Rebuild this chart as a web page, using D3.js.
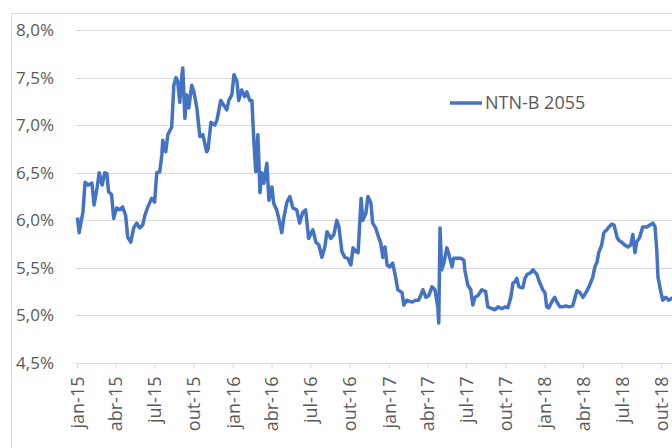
<!DOCTYPE html>
<html>
<head>
<meta charset="utf-8">
<script src="https://cdn.jsdelivr.net/npm/d3@7"></script>
<style>
  body { margin: 0; background: #fff; }
  text { font-family: "Open Sans", sans-serif; fill: #595959; }
</style>
</head>
<body>
<div id="chart"></div>
<script>
// series: NTN-B 2055 yield (%)
const dates = [
  "2015-01-02","2015-01-06","2015-01-15","2015-01-20","2015-01-27","2015-02-05","2015-02-10","2015-02-17","2015-02-22","2015-03-01",
  "2015-03-07","2015-03-12","2015-03-16","2015-03-23","2015-03-28","2015-04-04","2015-04-11","2015-04-18","2015-04-25","2015-04-30",
  "2015-05-07","2015-05-14","2015-05-21","2015-05-28","2015-06-04","2015-06-09","2015-06-16","2015-06-25","2015-07-02","2015-07-07",
  "2015-07-14","2015-07-19","2015-07-21","2015-07-28","2015-08-02","2015-08-11","2015-08-16","2015-08-21","2015-08-25","2015-08-30",
  "2015-09-04","2015-09-06","2015-09-11","2015-09-15","2015-09-20","2015-09-27","2015-10-02","2015-10-09","2015-10-16","2015-10-23",
  "2015-11-01","2015-11-04","2015-11-11","2015-11-20","2015-11-25","2015-12-04","2015-12-11","2015-12-18","2015-12-23","2015-12-30",
  "2016-01-04","2016-01-11","2016-01-15","2016-01-22","2016-01-29","2016-02-03","2016-02-10","2016-02-15","2016-02-19","2016-02-24",
  "2016-02-29","2016-03-05","2016-03-09","2016-03-14","2016-03-21","2016-03-26","2016-04-02","2016-04-06","2016-04-13","2016-04-18",
  "2016-04-25","2016-04-30","2016-05-07","2016-05-14","2016-05-21","2016-05-30","2016-06-06","2016-06-13","2016-06-20","2016-06-27",
  "2016-07-07","2016-07-14","2016-07-21","2016-07-28","2016-08-04","2016-08-09","2016-08-18","2016-08-25","2016-09-01","2016-09-06",
  "2016-09-13","2016-09-20","2016-09-27","2016-10-04","2016-10-09","2016-10-16","2016-10-21","2016-10-28","2016-11-01","2016-11-08",
  "2016-11-13","2016-11-20","2016-11-24","2016-12-01","2016-12-06","2016-12-13","2016-12-18","2016-12-23","2016-12-28",
  "2017-01-03","2017-01-10","2017-01-17","2017-01-22","2017-02-01","2017-02-05","2017-02-12","2017-02-24","2017-03-05","2017-03-12",
  "2017-03-22","2017-03-29","2017-04-05","2017-04-12","2017-04-19","2017-04-26","2017-04-28","2017-05-01","2017-05-05","2017-05-10",
  "2017-05-17","2017-05-22","2017-05-29","2017-06-02","2017-06-09","2017-06-19","2017-06-26","2017-06-28","2017-07-05","2017-07-12",
  "2017-07-17","2017-07-22","2017-07-29","2017-08-07","2017-08-16","2017-08-21","2017-08-31","2017-09-07","2017-09-14","2017-09-23",
  "2017-09-30","2017-10-07","2017-10-14","2017-10-19","2017-10-23","2017-10-28","2017-11-02","2017-11-11","2017-11-16","2017-11-21",
  "2017-11-30","2017-12-05","2017-12-14","2017-12-21","2017-12-28",
  "2018-01-02","2018-01-06","2018-01-11","2018-01-20","2018-01-25","2018-01-30","2018-02-06","2018-02-13","2018-02-20","2018-02-27",
  "2018-03-08","2018-03-13","2018-03-18","2018-03-25","2018-04-01","2018-04-08","2018-04-15","2018-04-24","2018-04-29","2018-05-04",
  "2018-05-08","2018-05-15","2018-05-20","2018-05-27","2018-06-01","2018-06-08","2018-06-13","2018-06-20","2018-06-24","2018-07-01",
  "2018-07-08","2018-07-15","2018-07-22","2018-07-27","2018-08-01","2018-08-05","2018-08-12","2018-08-19","2018-08-29","2018-09-05",
  "2018-09-12","2018-09-17","2018-09-21","2018-09-24","2018-10-01","2018-10-05","2018-10-12","2018-10-19","2018-10-26","2018-11-04"
];
const values = [
  6.03,5.87,6.09,6.40,6.37,6.39,6.16,6.34,6.50,6.37,
  6.50,6.49,6.30,6.27,6.02,6.13,6.11,6.14,6.05,5.82,
  5.77,5.92,5.97,5.92,5.95,6.05,6.14,6.23,6.19,6.50,
  6.51,6.69,6.84,6.72,6.90,6.98,7.42,7.50,7.46,7.24,
  7.53,7.60,7.07,7.32,7.18,7.42,7.35,7.18,6.88,6.90,
  6.72,6.74,7.03,7.00,7.05,7.26,7.21,7.16,7.26,7.32,
  7.53,7.46,7.26,7.37,7.30,7.35,7.26,7.26,6.88,6.51,
  6.90,6.29,6.50,6.39,6.60,6.21,6.35,6.18,6.11,6.02,
  5.87,6.03,6.19,6.25,6.13,6.11,5.97,6.08,6.11,5.81,
  5.90,5.77,5.74,5.61,5.72,5.88,5.81,5.85,6.00,5.93,
  5.67,5.61,5.60,5.53,5.71,5.67,5.66,6.23,6.00,6.07,
  6.25,6.18,5.97,5.92,5.85,5.76,5.61,5.72,5.53,
  5.51,5.55,5.40,5.27,5.24,5.11,5.16,5.14,5.16,5.16,
  5.27,5.19,5.21,5.30,5.27,5.08,4.92,5.92,5.48,5.55,
  5.71,5.64,5.51,5.60,5.60,5.60,5.58,5.48,5.32,5.27,
  5.11,5.19,5.21,5.27,5.25,5.09,5.07,5.06,5.09,5.07,
  5.09,5.08,5.19,5.34,5.35,5.39,5.30,5.29,5.39,5.43,
  5.45,5.48,5.43,5.34,5.27,
  5.24,5.09,5.08,5.16,5.19,5.14,5.09,5.09,5.10,5.09,
  5.10,5.18,5.26,5.24,5.19,5.24,5.30,5.40,5.51,5.56,
  5.66,5.74,5.87,5.90,5.93,5.96,5.95,5.82,5.79,5.77,
  5.74,5.72,5.74,5.85,5.66,5.77,5.82,5.93,5.93,5.95,
  5.97,5.93,5.69,5.40,5.24,5.16,5.19,5.16,5.18,5.18
];
const seriesName = "NTN-B 2055";
const yTicks = [4.5, 5.0, 5.5, 6.0, 6.5, 7.0, 7.5, 8.0];
const xTickLabels = ["jan-15","abr-15","jul-15","out-15","jan-16","abr-16","jul-16","out-16",
  "jan-17","abr-17","jul-17","out-17","jan-18","abr-18","jul-18","out-18"];

const width = 672;
const height = 448;
const parse = d3.timeParse("%Y-%m-%d");
const data = dates.map((d, i) => ({ date: parse(d), value: values[i] }));

// x ticks on the first day of each quarter
const monthIdx = { jan: 0, abr: 3, jul: 6, out: 9 };
const xTickDates = xTickLabels.map(l => {
  const [m, y] = l.split("-");
  return new Date(2000 + +y, monthIdx[m], 1);
});

const x = d3.scaleTime()
  .domain([xTickDates[0], xTickDates[xTickDates.length - 1]])
  .range([77, 661]);
const y = d3.scaleLinear().domain([4.5, 8.0]).range([363, 30]);

const svg = d3.select("#chart").append("svg")
  .attr("width", width)
  .attr("height", height);

// chart area border (runs off the right and bottom edges)
svg.append("rect")
  .attr("x", 11.5).attr("y", 13.5)
  .attr("width", 700).attr("height", 460)
  .attr("fill", "#fff")
  .attr("stroke", "#d9d9d9");

// gridlines
svg.append("g")
  .selectAll("line")
  .data(yTicks.slice(1))
  .join("line")
  .attr("x1", 76).attr("x2", width)
  .attr("y1", d => Math.round(y(d)) + 0.5)
  .attr("y2", d => Math.round(y(d)) + 0.5)
  .attr("stroke", "#d9d9d9");

// y labels
const fmt = d => d.toFixed(1).replace(".", ",") + "%";
svg.append("g")
  .selectAll("text")
  .data(yTicks)
  .join("text")
  .attr("x", 54)
  .attr("y", d => y(d))
  .attr("dy", "0.35em")
  .attr("text-anchor", "end")
  .style("font-size", "17px")
  .text(fmt);

// x axis
const xAxis = d3.axisBottom(x)
  .tickValues(xTickDates)
  .tickSize(5)
  .tickFormat((d, i) => xTickLabels[i]);

const gx = svg.append("g")
  .attr("transform", `translate(0,${Math.round(y(4.5)) + 0.5})`)
  .call(xAxis);
gx.select(".domain").attr("d", `M76,0H${width}`).attr("stroke", "#d9d9d9");
gx.selectAll(".tick line").attr("stroke", "#d9d9d9");
gx.selectAll(".tick text")
  .attr("fill", "#595959")
  .style("font-size", "18px")
  .style("font-family", "Open Sans, sans-serif")
  .attr("text-anchor", "end")
  .attr("transform", "rotate(-90)")
  .attr("x", -13)
  .attr("y", 0)
  .attr("dy", "0.35em");

// line
const line = d3.line()
  .x(d => x(d.date))
  .y(d => y(d.value));

svg.append("path")
  .datum(data)
  .attr("fill", "none")
  .attr("stroke", "#4472c4")
  .attr("stroke-width", 3.5)
  .attr("stroke-linejoin", "round")
  .attr("d", line);

// legend
const legend = svg.append("g").attr("transform", "translate(450,103)");
legend.append("line")
  .attr("x1", 0).attr("x2", 32)
  .attr("stroke", "#4472c4")
  .attr("stroke-width", 3.5);
legend.append("text")
  .attr("x", 35)
  .attr("dy", "0.35em")
  .style("font-size", "18px")
  .text(seriesName);
</script>
</body>
</html>
